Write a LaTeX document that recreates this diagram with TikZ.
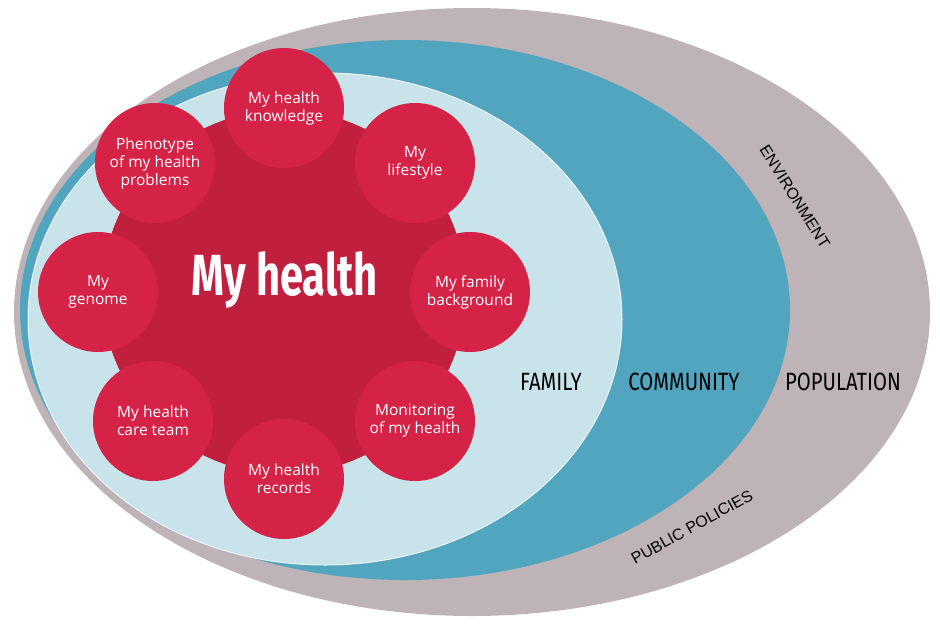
\documentclass[tikz,border=0pt]{standalone}
\usepackage{fontspec}
\setmainfont{Open Sans}
\newfontfamily\condfont[FakeStretch=0.81]{Fira Sans}
\newfontfamily\titrefont[FakeStretch=0.72]{Fira Sans}
\newfontfamily\arialfont{Liberation Sans}
\usetikzlibrary{positioning}
\definecolor{gris}{RGB}{190,179,182}
\definecolor{bleu}{RGB}{82,165,190}
\definecolor{bleuclair}{RGB}{201,227,234}
\definecolor{rougefonce}{RGB}{193,31,62}
\definecolor{rouge}{RGB}{213,35,71}

\begin{document}
\begin{tikzpicture}[x=1pt,y=-1pt,
    bulle/.style={circle, fill=rouge, minimum size=120pt, inner sep=0pt, text=white,
      align=center, font=\fontsize{15.5}{18}\selectfont},
    niveau/.style={anchor=base, font=\condfont\fontsize{25}{25}\selectfont},
    penche/.style={font=\arialfont\fontsize{16}{16}\selectfont}]
  \useasboundingbox (0,0) rectangle (940,630);
  % Les ellipses
  \fill[gris] (472,312) ellipse [x radius=458, y radius=304];
  \fill[bleu] (405,310) ellipse [x radius=385, y radius=270];
  \filldraw[fill=bleuclair, draw=white!60!bleuclair, line width=1pt] (325,319) ellipse [x radius=297, y radius=246];
  % Le disque central
  \node[circle, fill=rougefonce, minimum size=364pt, inner sep=0pt] (sante) at (284,292) {};
  \node[text=white, font=\titrefont\bfseries\fontsize{58}{58}\selectfont] (titre) at (285,280) {My health};
  % Les bulles autour
  \node[bulle] (savoir) at (284,108) {My health\\knowledge};
  \node[bulle] (mode) at (415,163) {My\\lifestyle};
  \node[bulle] (famille) at (470,292) {My family\\background};
  \node[bulle] (suivi) at (415,421) {Monitoring\\of my health};
  \node[bulle] (dossier) at (284,479) {My health\\records};
  \node[bulle] (equipe) at (153,421) {My health\\care team};
  \node[bulle] (genome) at (98,292) {My\\genome};
  \node[bulle] (phenotype) at (155,163) {Phenotype\\of my health\\problems};
  % Les niveaux
  \node[niveau] (family) at (551,390) {FAMILY};
  \node[niveau] (community) at (684,390) {COMMUNITY};
  \node[niveau] (population) at (843,390) {POPULATION};
  \node[penche, rotate=-58] (environment) at (795,197) {ENVIRONMENT};
  \node[penche, rotate=29] (policies) at (692,527) {PUBLIC POLICIES};
\end{tikzpicture}
\end{document}
